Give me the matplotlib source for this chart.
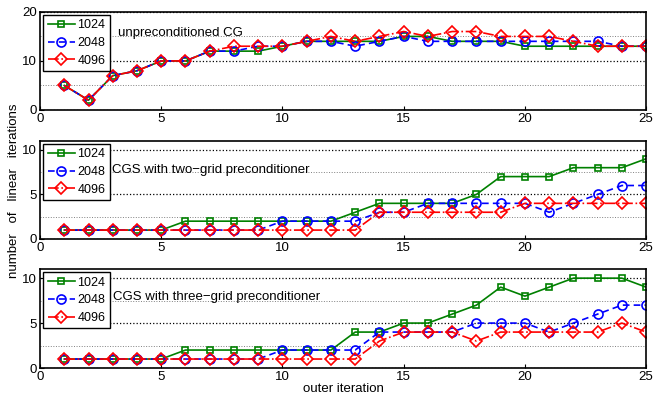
#!/usr/bin/env python3
# coding: utf-8
import matplotlib
matplotlib.use('Agg')
import matplotlib.pyplot as plt
from matplotlib.ticker import MultipleLocator

plt.rcParams['font.family'] = ['Liberation Sans', 'DejaVu Sans']
plt.rcParams['font.size'] = 10

outer = list(range(1, 26))
sizes = ['1024', '2048', '4096']
titles = ['unpreconditioned CG',
          'CGS with two\u2212grid preconditioner',
          'CGS with three\u2212grid preconditioner']

# unpreconditioned CG
cg_1024 = [5, 2, 7, 8, 10, 10, 12, 12, 12, 13, 14, 14, 14, 14, 15, 15, 14, 14, 14, 13, 13, 13, 13, 13, 13]
cg_2048 = [5, 2, 7, 8, 10, 10, 12, 12, 13, 13, 14, 14, 13, 14, 15, 14, 14, 14, 14, 14, 14, 14, 14, 13, 13]
cg_4096 = [5, 2, 7, 8, 10, 10, 12, 13, 13, 13, 14, 15, 14, 15, 16, 15, 16, 16, 15, 15, 15, 14, 13, 13, 13]

# two-grid preconditioner
two_1024 = [1, 1, 1, 1, 1, 2, 2, 2, 2, 2, 2, 2, 3, 4, 4, 4, 4, 5, 7, 7, 7, 8, 8, 8, 9]
two_2048 = [1, 1, 1, 1, 1, 1, 1, 1, 1, 2, 2, 2, 2, 3, 3, 4, 4, 4, 4, 4, 3, 4, 5, 6, 6]
two_4096 = [1, 1, 1, 1, 1, 1, 1, 1, 1, 1, 1, 1, 1, 3, 3, 3, 3, 3, 3, 4, 4, 4, 4, 4, 4]

# three-grid preconditioner
three_1024 = [1, 1, 1, 1, 1, 2, 2, 2, 2, 2, 2, 2, 4, 4, 5, 5, 6, 7, 9, 8, 9, 10, 10, 10, 9]
three_2048 = [1, 1, 1, 1, 1, 1, 1, 1, 1, 2, 2, 2, 2, 4, 4, 4, 4, 5, 5, 5, 4, 5, 6, 7, 7]
three_4096 = [1, 1, 1, 1, 1, 1, 1, 1, 1, 1, 1, 1, 1, 3, 4, 4, 4, 3, 4, 4, 4, 4, 4, 5, 4]

panels = [(cg_1024, cg_2048, cg_4096),
          (two_1024, two_2048, two_4096),
          (three_1024, three_2048, three_4096)]

styles = [dict(color=(0, 0.5, 0), ls='-', marker='s', ms=4.5),
          dict(color='blue', ls=(0, (4, 2.5)), marker='o', ms=6.5),
          dict(color='red', ls='-.', marker='D', ms=6.5)]

fig = plt.figure(figsize=(6.54, 3.97), dpi=100)
rects = [[0.0612, 0.723, 0.9268, 0.247],
         [0.0612, 0.398, 0.9268, 0.247],
         [0.0612, 0.073, 0.9268, 0.249]]
ylims = [(0, 20), (0, 11), (0, 11)]
ymaj = [10, 5, 5]
text_pos = [(3.2, 15.7), (2.95, 7.7), (3.0, 7.9)]

for k in range(3):
    ax = fig.add_axes(rects[k])
    for series, lab, st in zip(panels[k], sizes, styles):
        ax.plot(outer, series, label=lab, lw=1.2, mfc='none', mew=1.2, **st)
    ax.set_xlim(0, 25)
    ax.set_ylim(*ylims[k])
    ax.xaxis.set_major_locator(MultipleLocator(5))
    ax.yaxis.set_major_locator(MultipleLocator(ymaj[k]))
    ax.yaxis.set_minor_locator(MultipleLocator(ymaj[k] / 2))
    ax.grid(True, axis='y', which='major', color='black', ls=':', lw=0.9)
    ax.grid(True, axis='y', which='minor', color='gray', ls=':', lw=0.7)
    ax.tick_params(direction='in', length=3, labelsize=9.5, pad=2)
    ax.tick_params(which='minor', length=0)
    for s in ax.spines.values():
        s.set_linewidth(1.2)
    ax.text(text_pos[k][0], text_pos[k][1], titles[k], fontsize=9.5, va='center')
    leg = ax.legend(loc='upper left', fontsize=9, fancybox=False, framealpha=1,
                    edgecolor='black', borderpad=0.35, labelspacing=0.45,
                    handlelength=2.2, handletextpad=0.2, borderaxespad=0.25)
    leg.get_frame().set_linewidth(1.0)
    if k == 2:
        ax.set_xlabel('outer iteration', fontsize=9.5, labelpad=0)

fig.text(0.022, 0.52, 'number   of   linear   iterations', rotation=90,
         va='center', ha='center', fontsize=9.5)

plt.savefig('out.png', dpi=100)
